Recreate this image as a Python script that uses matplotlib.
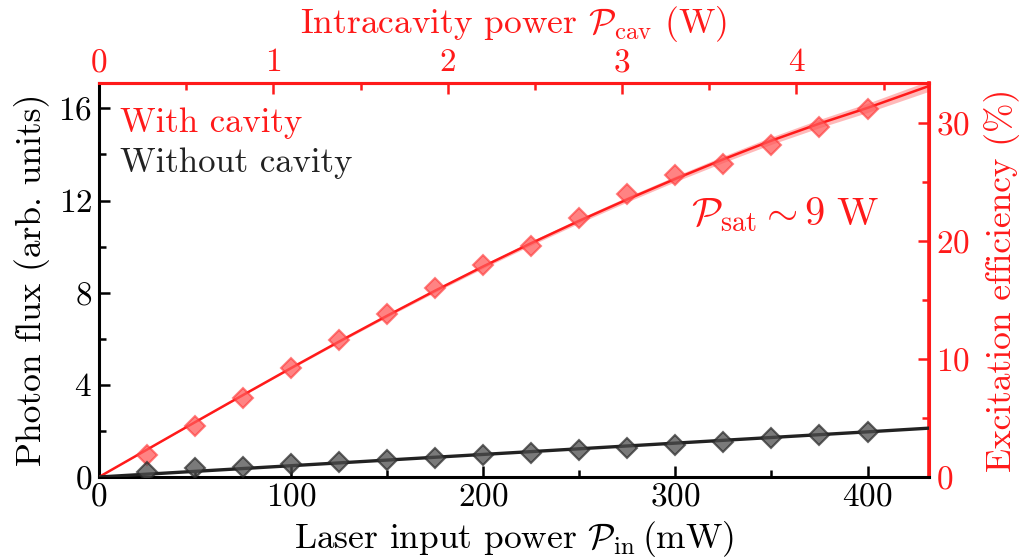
import matplotlib
matplotlib.use("Agg")
import matplotlib.pyplot as plt
from matplotlib.ticker import MultipleLocator

plt.rcParams["font.family"] = "serif"
plt.rcParams["font.serif"] = ["cmr10", "DejaVu Serif"]
plt.rcParams["mathtext.fontset"] = "cm"
plt.rcParams["axes.formatter.use_mathtext"] = True
plt.rcParams["axes.unicode_minus"] = False

RED = "#ff1a1a"
DARK = "#222222"

# Measured photon flux (arb. units) vs laser input power (mW)
power_in = [25, 50, 75, 100, 125, 150, 175, 200, 225, 250, 275, 300, 325, 350, 375, 400]
flux_cavity = [0.96, 2.2, 3.43, 4.74, 5.96, 7.09, 8.2, 9.2, 10.04, 11.25, 12.3, 13.1,
               13.6, 14.43, 15.2, 15.95]
flux_free = [0.2, 0.4, 0.42, 0.55, 0.63, 0.72, 0.82, 0.96, 1.06, 1.17, 1.28, 1.41,
             1.54, 1.68, 1.83, 1.97]

# Saturation fit curves
fit_power = [0, 25, 50, 75, 100, 125, 150, 175, 200, 225, 250, 275, 300, 325, 350,
             375, 400, 432]
fit_cavity = [0, 1.19, 2.38, 3.56, 4.73, 5.88, 7.0, 8.09, 9.14, 10.15, 11.12, 12.05,
              12.94, 13.79, 14.6, 15.34, 16.02, 16.97]
fit_cavity_err = [0, 0.01, 0.02, 0.03, 0.04, 0.05, 0.06, 0.07, 0.08, 0.09, 0.1, 0.11,
                  0.12, 0.14, 0.16, 0.18, 0.2, 0.23]
fit_free_power = [0, 100, 200, 300, 400, 432]
fit_free = [0, 0.49, 0.98, 1.47, 1.96, 2.12]

# Axis conversions
cavity_gain = 11.02          # intracavity W per input W
efficiency_per_unit = 1.95   # % excitation efficiency per flux unit

x_max = 432
y_max = 17.1

TICK_FS = 24
LABEL_FS = 25.5

fig = plt.figure(figsize=(10.21, 5.58), dpi=100)
ax = fig.add_axes([99 / 1021, 1 - 477 / 558, 830 / 1021, 394 / 558])

lower = [f - e for f, e in zip(fit_cavity, fit_cavity_err)]
upper = [f + e for f, e in zip(fit_cavity, fit_cavity_err)]
ax.fill_between(fit_power, lower, upper, color=RED, alpha=0.3, lw=0, zorder=2)
ax.plot(fit_power, fit_cavity, color=RED, lw=1.8, zorder=3)
ax.plot(fit_free_power, fit_free, color=DARK, lw=2.4, zorder=3)

ax.plot(power_in, flux_cavity, ls="none", marker="D", ms=10.5,
        mfc=(1.0, 0.35, 0.35, 0.75), mec=(1.0, 0.2, 0.2, 0.6), mew=1.5, zorder=4)
ax.plot(power_in, flux_free, ls="none", marker="D", ms=10.5,
        mfc=(0.3, 0.3, 0.3, 0.75), mec=(0.15, 0.15, 0.15, 0.7), mew=1.5, zorder=4)

ax.set_xlim(0, x_max)
ax.set_ylim(0, y_max)

ax.xaxis.set_major_locator(MultipleLocator(100))
ax.xaxis.set_minor_locator(MultipleLocator(50))
ax.yaxis.set_major_locator(MultipleLocator(4))
ax.yaxis.set_minor_locator(MultipleLocator(2))
ax.tick_params(which="both", direction="in", top=False, right=False,
               labelsize=TICK_FS, width=1.8, color="black")
ax.tick_params(which="major", length=8)
ax.tick_params(which="minor", length=5)
ax.tick_params(axis="x", pad=4)
ax.tick_params(axis="y", pad=5)

for side in ("left", "bottom"):
    ax.spines[side].set_linewidth(2.2)
    ax.spines[side].set_color("black")
for side in ("top", "right"):
    ax.spines[side].set_linewidth(2.2)
    ax.spines[side].set_color(RED)

ax.set_xlabel(r"Laser input power $\mathcal{P}_{\rm in}\,$(mW)", fontsize=LABEL_FS,
              labelpad=5)
ax.set_ylabel("Photon flux (arb. units)", fontsize=LABEL_FS, labelpad=6)

# Top axis: intracavity power
top = ax.secondary_xaxis("top", functions=(lambda p: p * cavity_gain / 1000,
                                           lambda w: w * 1000 / cavity_gain))
top.xaxis.set_major_locator(MultipleLocator(1))
top.xaxis.set_minor_locator(MultipleLocator(0.5))
top.tick_params(which="both", direction="in", labelsize=TICK_FS, width=1.8,
                color=RED, labelcolor=RED, pad=4)
top.tick_params(which="major", length=8)
top.tick_params(which="minor", length=5)
top.spines["top"].set_color(RED)
top.spines["top"].set_linewidth(2.2)
top.set_xlabel(r"Intracavity power $\mathcal{P}_{\rm cav}$ (W)", fontsize=LABEL_FS,
               color=RED, labelpad=11)

# Right axis: excitation efficiency
right = ax.secondary_yaxis("right", functions=(lambda f: f * efficiency_per_unit,
                                               lambda e: e / efficiency_per_unit))
right.yaxis.set_major_locator(MultipleLocator(10))
right.yaxis.set_minor_locator(MultipleLocator(5))
right.tick_params(which="both", direction="in", labelsize=TICK_FS, width=1.8,
                  color=RED, labelcolor=RED, pad=5)
right.tick_params(which="major", length=8)
right.tick_params(which="minor", length=5)
right.spines["right"].set_color(RED)
right.spines["right"].set_linewidth(2.6)
right.set_ylabel("Excitation efficiency (%)", fontsize=LABEL_FS, color=RED, labelpad=10)

ax.text(11, 15.35, "With cavity", color=RED, fontsize=25, va="center", ha="left")
ax.text(11, 13.6, "Without cavity", color=DARK, fontsize=25, va="center", ha="left")
ax.text(357, 11.4, r"$\mathcal{P}_{\rm sat} \sim 9\ \mathrm{W}$", color=RED,
        fontsize=29, va="center", ha="center")

fig.savefig("out.png", dpi=100)
